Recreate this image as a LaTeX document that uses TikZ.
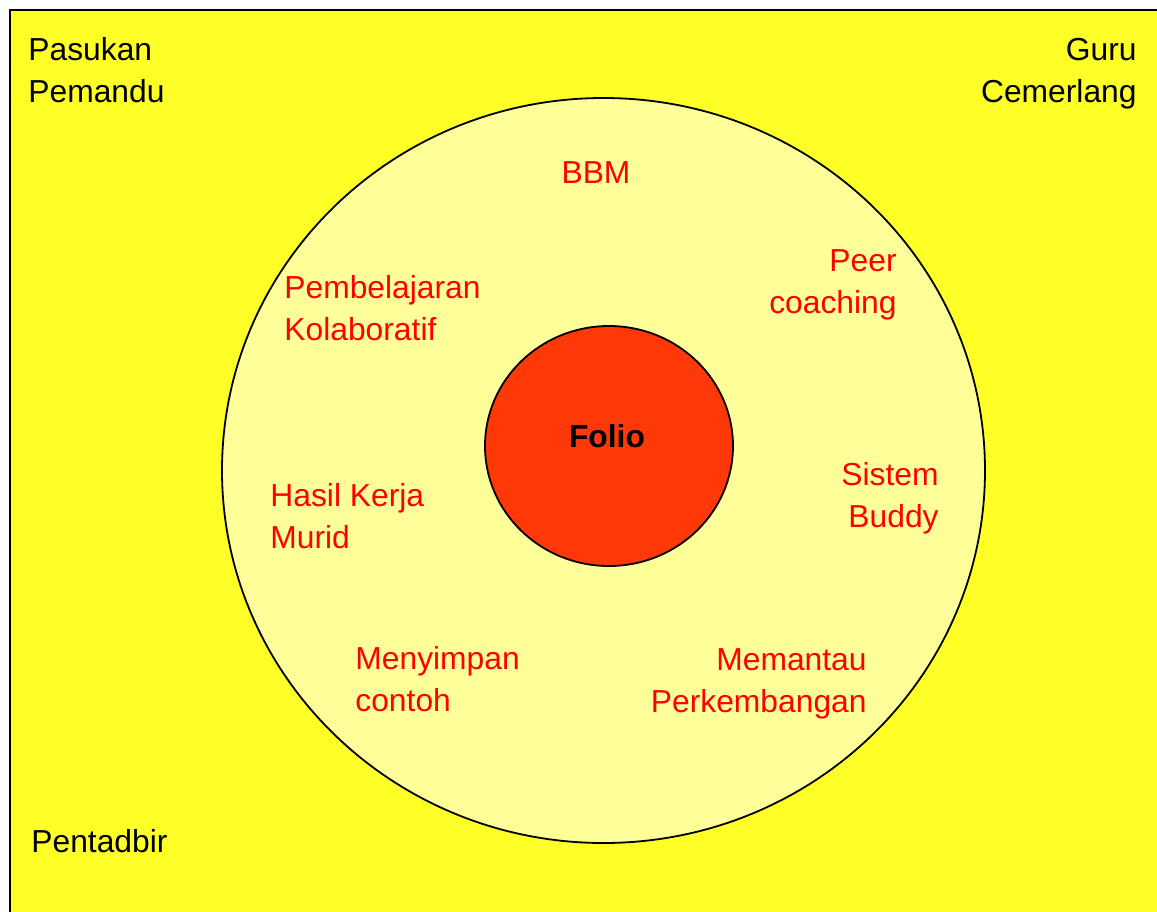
\documentclass[tikz,border=0pt]{standalone}
\usepackage{fontspec}
\setmainfont{Liberation Sans}
\usepackage{tikz}
\usetikzlibrary{shapes.geometric}
\definecolor{pagebg}{RGB}{255,255,40}
\definecolor{ringbg}{RGB}{255,255,153}
\definecolor{corebg}{RGB}{255,56,8}
\definecolor{lblred}{RGB}{255,0,0}

\begin{document}
\begin{tikzpicture}[x=0.5pt, y=-0.5pt,
  frame/.style={draw, line width=1.3pt, fill=pagebg},
  ring/.style={ellipse, draw, line width=0.9pt, fill=ringbg, inner sep=0pt, minimum width=381.5pt, minimum height=372.5pt},
  core/.style={ellipse, draw, line width=0.9pt, fill=corebg, inner sep=0pt, minimum width=124pt, minimum height=120pt},
  txt/.style={inner sep=0pt, font=\fontsize{15.9}{21}\selectfont},
  role/.style={txt, text=black},
  item/.style={txt, text=lblred}
]
  \clip (0,0) rectangle (1157,911);
  \draw[frame] (10,10) rectangle (1180,940);

  \node[role, anchor=west, align=left] (pasukan) at (28,70) {Pasukan\\Pemandu};
  \node[role, anchor=east, align=right] (guru) at (1137,74) {Guru\\Cemerlang};
  \node[role, anchor=west] (pentadbir) at (31,841) {Pentadbir};

  \node[ring] (ring) at (603.5,470.5) {};
  \node[core] (core) at (609,446) {};
  \node[txt, font=\fontsize{15.9}{21}\selectfont\bfseries] (folio) at (607,436) {Folio};

  \node[item] (bbm) at (596,173) {BBM};
  \node[item, anchor=west, align=left] (kolab) at (284,308) {Pembelajaran\\Kolaboratif};
  \node[item, anchor=east, align=right] (peer) at (897,284.5) {Peer\\coaching};
  \node[item, anchor=west, align=left] (hasil) at (270,516) {Hasil Kerja\\Murid};
  \node[item, anchor=east, align=right] (buddy) at (939,498) {Sistem\\Buddy};
  \node[item, anchor=west, align=left] (contoh) at (355,679) {Menyimpan\\contoh};
  \node[item, anchor=east, align=right] (pantau) at (867,683.5) {Memantau\\Perkembangan};
\end{tikzpicture}
\end{document}
